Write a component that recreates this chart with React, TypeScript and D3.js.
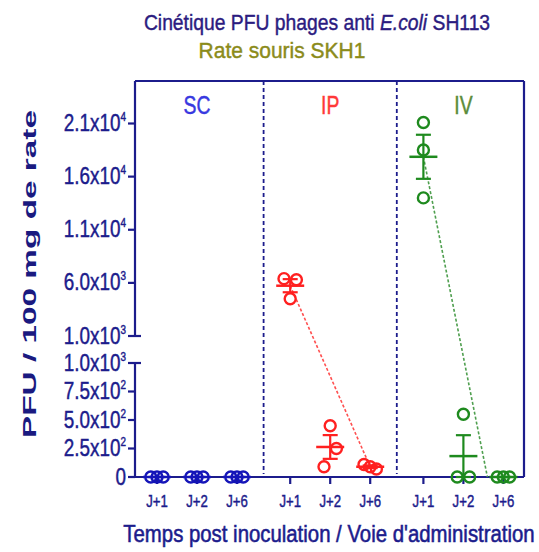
import React from "react";
import * as d3 from "d3";

const GROUPS = ["SC", "IP", "IV"];
const DAYS = ["J+1", "J+2", "J+6"];
const SC_VALUES = [[0, 0, 0], [0, 0, 0], [0, 0, 0]];
const IP_VALUES = [[6400, 6300, 4500], [450, 250, 90], [110, 90, 70]];
const IV_VALUES = [[21100, 18500, 14000], [550, 0, 0], [0, 0, 0]];
const UPPER_TICKS = [21000, 16000, 11000, 6000];
const LOWER_TICKS = [0, 250, 500, 750];
const BREAK_VALUE = 1000;
const TOP_VALUE = 25000;
// trend line: from J+1 mean to [daySlot, value]
const TREND_END = [null, [2, null], [1.6, 0]] as any[];

const SERIES = [SC_VALUES, IP_VALUES, IV_VALUES];
const JITTER = [
  [[-1, 0, 1], [-1, 0, 1], [-1, 0, 1]],
  [[-1, 1, 0], [0, 1, -1], [-1, 0, 1]],
  [[0, 0, 0], [0, -1, 1], [-1, 0, 1]],
];
const COLORS = ["#1414b8", "#ff2020", "#1e8a1e"];
const LABEL_COLORS = ["#3838e0", "#ff3838", "#5b8c3a"];
const TREND_COLORS = [null, "#ff5050", "#4f9f4f"];
const NAVY = "#1c1c8c";
const FONT = "'Liberation Sans', Arial, sans-serif";

const GAP = 0.33;
const posOf = (g: number, d: number) => g * 3 + d + g * GAP;

function Txt(props: any) {
  const { x, y, sx = 1, sy = 1, children, fill, heavy = 0.4, ...rest } = props;
  return (
    <text transform={`translate(${x},${y}) scale(${sx},${sy})`} x={0} y={0} fontFamily={FONT}
      fill={fill} stroke={fill} strokeWidth={heavy} {...rest}>
      {children}
    </text>
  );
}

export default function App() {
  const W = 539, H = 552;
  const left = 135, right = 524, top = 81, bottom = 477;
  const lowTop = 363, highBottom = 336;

  const x = d3.scaleLinear().domain([-0.55, 9.175]).range([left, right]);
  const yLow = d3.scaleLinear().domain([0, BREAK_VALUE]).range([bottom, lowTop]);
  const yHigh = d3.scaleLinear().domain([BREAK_VALUE, TOP_VALUE]).range([highBottom, top]);
  const y = (v: number) => (v <= BREAK_VALUE ? yLow(v) : yHigh(v));

  const fmt = (v: number) => {
    if (v === 0) return { m: "0", e: null as string | null };
    const e = Math.floor(Math.log10(v) + 1e-9);
    return { m: (v / Math.pow(10, e)).toFixed(1) + "x10", e: String(e) };
  };

  const stats = (vals: number[]) => {
    const mean = d3.mean(vals) as number;
    const sd = d3.deviation(vals) as number;
    const sem = sd / Math.sqrt(vals.length);
    return { mean, sem };
  };

  const r = 5.5;
  const jitterStep = 6.2;

  const yTickLabel = (v: number, py: number, key: string) => {
    const f = fmt(v);
    return (
      <Txt key={key} x={left - 9} y={py + 7.5} sx={0.9} sy={1.1} textAnchor="end"
        fontSize={21} fill={NAVY}>
        {f.m}
        {f.e && <tspan fontSize={11} dy={-9}>{f.e}</tspan>}
      </Txt>
    );
  };

  const seps = [
    (posOf(0, 2) + posOf(1, 0)) / 2,
    (posOf(1, 2) + posOf(2, 0)) / 2,
  ];

  return (
    <svg width={W} height={H} style={{ position: "absolute", left: 0, top: 0, background: "#fff" }}>
      {/* Titles */}
      <Txt x={317} y={30} sx={0.92} sy={1.08} textAnchor="middle" fontSize={21} fill="#2b1b80">
        Cinétique PFU phages anti <tspan fontStyle="italic">E.coli</tspan> SH113
      </Txt>
      <Txt x={282} y={58} sx={1.0} sy={1.08} textAnchor="middle" fontSize={21} fill="#8b8b1a">
        Rate souris SKH1
      </Txt>

      {/* Frame */}
      <g stroke={NAVY} strokeWidth={2.2} fill="none">
        <line x1={left} y1={top} x2={right} y2={top} />
        <line x1={right} y1={top} x2={right} y2={bottom} />
        <line x1={left} y1={bottom} x2={right} y2={bottom} />
        <line x1={left} y1={top} x2={left} y2={highBottom} />
        <line x1={left} y1={lowTop} x2={left} y2={bottom} />
        <line x1={left - 7} y1={highBottom} x2={left + 6} y2={highBottom} />
        <line x1={left - 7} y1={lowTop} x2={left + 6} y2={lowTop} />
        {UPPER_TICKS.map((v) => (
          <line key={"ut" + v} x1={left - 7} x2={left} y1={y(v)} y2={y(v)} />
        ))}
        {LOWER_TICKS.map((v) => (
          <line key={"lt" + v} x1={left - 7} x2={left} y1={yLow(v)} y2={yLow(v)} />
        ))}
        {GROUPS.map((g, gi) =>
          DAYS.map((d, di) => (
            <line key={"xt" + g + d} x1={x(posOf(gi, di))} x2={x(posOf(gi, di))}
              y1={bottom} y2={bottom + 7} />
          ))
        )}
      </g>
      {seps.map((s, i) => (
        <line key={"sep" + i} x1={x(s)} x2={x(s)} y1={top} y2={bottom - 3}
          stroke={NAVY} strokeWidth={1.8} strokeDasharray="4,3" />
      ))}

      {/* Y tick labels */}
      {UPPER_TICKS.map((v) => yTickLabel(v, y(v), "ul" + v))}
      {yTickLabel(BREAK_VALUE, yHigh(BREAK_VALUE), "ubreak")}
      {yTickLabel(BREAK_VALUE, yLow(BREAK_VALUE), "lbreak")}
      {LOWER_TICKS.map((v) => yTickLabel(v, yLow(v), "ll" + v))}

      {/* Group labels */}
      {GROUPS.map((g, gi) => (
        <Txt key={"gl" + g} x={x(posOf(gi, 1))} y={114} sx={0.88} sy={1.15} textAnchor="middle"
          fontSize={22} fill={LABEL_COLORS[gi]}>
          {g}
        </Txt>
      ))}

      {/* Trend lines */}
      {SERIES.map((vals, gi) => {
        const end = TREND_END[gi];
        if (!end) return null;
        const m1 = stats(vals[0]).mean;
        const endVal = end[1] === null ? stats(vals[end[0]]).mean : end[1];
        return (
          <line key={"tr" + gi} x1={x(posOf(gi, 0))} y1={y(m1)} x2={x(posOf(gi, end[0]))}
            y2={y(endVal)} stroke={TREND_COLORS[gi] as string} strokeWidth={1.6}
            strokeDasharray="3,2" />
        );
      })}

      {/* Points, means and error bars */}
      {SERIES.map((vals, gi) =>
        vals.map((pts, di) => {
          const cx = x(posOf(gi, di));
          const { mean, sem } = stats(pts);
          const c = COLORS[gi];
          const lo = Math.max(0, mean - sem), hi = mean + sem;
          return (
            <g key={"pt" + gi + di}>
              {pts.map((v, k) => (
                <circle key={k} cx={cx + JITTER[gi][di][k] * jitterStep} cy={y(v)} r={r}
                  fill="none" stroke={c} strokeWidth={2.4} />
              ))}
              <line x1={cx - 14} x2={cx + 14} y1={y(mean)} y2={y(mean)} stroke={c} strokeWidth={2.5} />
              <line x1={cx} x2={cx} y1={y(lo)} y2={y(hi)} stroke={c} strokeWidth={2.2} />
              <line x1={cx - 7.5} x2={cx + 7.5} y1={y(hi)} y2={y(hi)} stroke={c} strokeWidth={2.2} />
              <line x1={cx - 7.5} x2={cx + 7.5} y1={y(lo)} y2={y(lo)} stroke={c} strokeWidth={2.2} />
            </g>
          );
        })
      )}

      {/* X tick labels */}
      {GROUPS.map((g, gi) =>
        DAYS.map((d, di) => (
          <Txt key={"xl" + g + d} x={x(posOf(gi, di))} y={507} sx={0.88} sy={1.12} textAnchor="middle"
            fontSize={15} fill={NAVY}>
            {d}
          </Txt>
        ))
      )}

      {/* Axis titles */}
      <Txt x={329} y={542} sx={0.97} sy={1.1} textAnchor="middle" fontSize={21} fill={NAVY} heavy={0.5}>
        Temps post inoculation / Voie d'administration
      </Txt>
      <text transform={`translate(36,274) rotate(-90)`} textAnchor="middle"
        fontFamily={FONT} fontWeight="bold" fontSize={19}
        fill="#1a1a80" textLength={328} lengthAdjust="spacingAndGlyphs">
        PFU / 100 mg de rate
      </text>
    </svg>
  );
}
